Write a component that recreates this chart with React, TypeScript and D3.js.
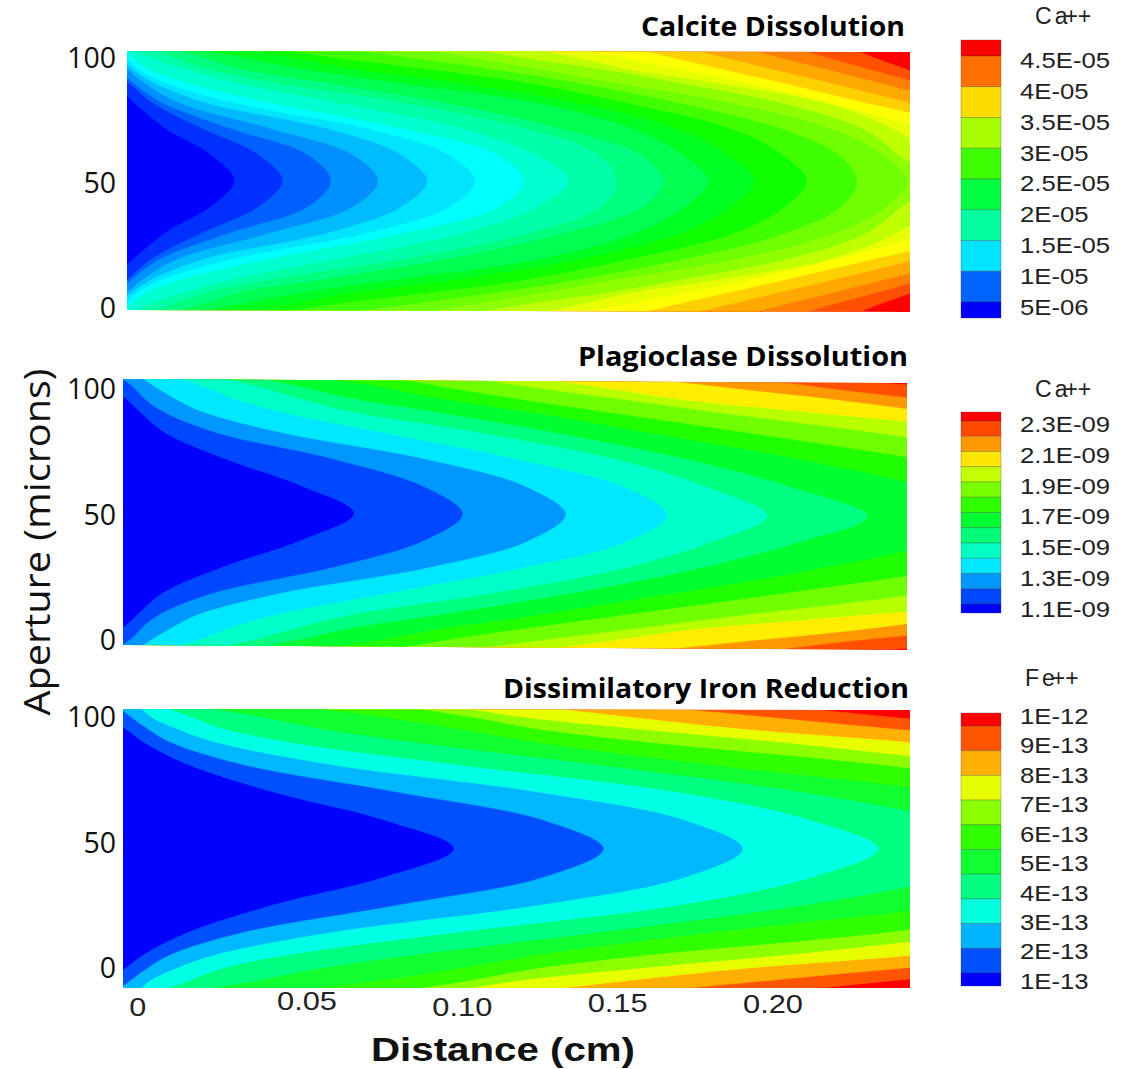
import React from "react";
import * as d3 from "d3";

// Aperture rows (microns) at which each contour was read; the lower half mirrors the upper half.
const apertureRows = [100, 97, 93, 88, 80, 70, 60, 50];

// Contour crossings: distance in microns along the fracture, one column per aperture row.
const calciteContours = [
  [-214, -166, -102, -45, 22, 122, 266, 342],
  [-182, -134, -70, 0, 80, 240, 419, 496],
  [-134, -86, -29, 16, 110, 330, 576, 650],
  [-86, -48, 0, 50, 165, 458, 720, 800],
  [-54, -22, 16, 80, 250, 640, 874, 957],
  [-29, 0, 35, 115, 340, 768, 1027, 1110],
  [-6, 19, 67, 179, 458, 883, 1184, 1267],
  [32, 83, 186, 336, 672, 1075, 1306, 1411],
  [96, 160, 256, 458, 886, 1280, 1507, 1562],
  [170, 256, 362, 618, 1020, 1392, 1642, 1712],
  [256, 384, 563, 848, 1315, 1620, 1779, 1856],
  [400, 550, 723, 1040, 1440, 1763, 1923, 2003],
  [520, 690, 960, 1270, 1600, 1935, 2096, 2170],
  [740, 930, 1170, 1430, 1770, 2096, 2275, 2330],
  [976, 1123, 1322, 1552, 1936, 2256, 2419, 2490],
  [1136, 1290, 1520, 1754, 2096, 2355, 2467, 2570],
  [1338, 1459, 1603, 1872, 2234, 2450, 2576, 2634],
  [1475, 1603, 1776, 1978, 2256, 2544, 2746, 2826],
  [1658, 1763, 1907, 2090, 2371, 2736, 3050, 3146],
  [1827, 1930, 2067, 2243, 2515, 2890, 3210, 3306],
  [2010, 2106, 2240, 2403, 2672, 3050, 3370, 3466],
  [2170, 2256, 2378, 2528, 2768, 3146, 3466, 3562],
  [2339, 2403, 2496, 2618, 2800, 3210, 3562, 3658],
];
const calciteBands = [
  "#0000ff", "#0030ff", "#0060ff", "#0090ff", "#00bcff", "#00e4ff", "#00ffff", "#00ffd0",
  "#00ffa8", "#00ff80", "#00ff50", "#00ff20", "#10ff00", "#40ff00", "#70ff00", "#8fff00",
  "#c0ff00", "#e8ff00", "#ffff00", "#ffd000", "#ffa800", "#ff8000", "#ff5000", "#ff0000",
];

const plagioclaseContours = [
  [-122, -58, 3, 50, 130, 326, 570, 736],
  [-3, 32, 64, 122, 294, 678, 960, 1082],
  [64, 102, 160, 246, 506, 980, 1290, 1411],
  [186, 262, 346, 496, 838, 1277, 1606, 1734],
  [336, 440, 560, 730, 1158, 1597, 1875, 2054],
  [454, 582, 730, 998, 1405, 1830, 2150, 2374],
  [678, 838, 1018, 1309, 1715, 2205, 2576, 2742],
  [902, 1050, 1267, 1565, 2045, 2621, 3126, 3286],
  [1158, 1341, 1606, 1926, 2470, 2998, 3446, 3606],
  [1382, 1565, 1798, 2259, 2934, 3286, 3606, 3766],
  [1757, 1990, 2310, 2630, 3030, 3446, 3766, 3926],
  [2099, 2301, 2611, 2902, 3382, 3766, 4086, 4246],
  [2390, 2806, 3126, 3446, 3926, 4246, 4566, 4726],
];
const plagioclaseBands = [
  "#0000ff", "#0048ff", "#0098ff", "#00e8ff", "#00ffc8", "#00ff80", "#00ff30",
  "#20ff00", "#70ff00", "#b8ff00", "#ffee00", "#ff9800", "#ff5000", "#ff0000",
];

const ironContours = [
  [-106, -50, 5, 65, 205, 480, 832, 1050],
  [-10, 26, 75, 150, 380, 880, 1340, 1526],
  [58, 90, 166, 294, 660, 1330, 1789, 1968],
  [144, 218, 314, 530, 1062, 1776, 2192, 2400],
  [282, 442, 620, 930, 1510, 2173, 2640, 2966],
  [624, 830, 1060, 1320, 1872, 2640, 3126, 3286],
  [944, 1114, 1309, 1680, 2420, 3060, 3606, 3766],
  [1104, 1277, 1629, 2109, 2749, 3446, 3926, 4086],
  [1392, 1629, 1968, 2518, 3126, 3766, 4246, 4406],
  [1798, 2077, 2461, 2966, 3606, 4086, 4566, 4726],
  [2214, 2480, 2870, 3382, 3926, 4406, 4886, 5046],
];
const ironBands = [
  "#0000ff", "#0050ff", "#00b8ff", "#00ffe4", "#00ff80", "#10ff30",
  "#30ff00", "#8cff00", "#e8ff00", "#ffb000", "#ff5500", "#ff0000",
];

// Legend swatches, top to bottom, and their labels.
const calciteSwatches = ["#ff0000", "#ff7000", "#ffdc00", "#a8ff00", "#40ff00", "#00ff40", "#00ffa0", "#00e4ff", "#0064ff", "#0000ff"];
const calciteLabels = ["4.5E-05", "4E-05", "3.5E-05", "3E-05", "2.5E-05", "2E-05", "1.5E-05", "1E-05", "5E-06"];
const plagioclaseSwatches = ["#ff0000", "#ff4800", "#ff9800", "#ffe600", "#c4ff00", "#78ff00", "#30ff00", "#00ff30", "#00ff78", "#00ffc0", "#00e8ff", "#0098ff", "#0048ff", "#0000ff"];
const plagioclaseLabels = ["2.3E-09", "2.1E-09", "1.9E-09", "1.7E-09", "1.5E-09", "1.3E-09", "1.1E-09"];
const ironSwatches = ["#ff0000", "#ff5500", "#ffb000", "#e8ff00", "#8cff00", "#30ff00", "#10ff30", "#00ff80", "#00ffdc", "#00b4ff", "#0050ff", "#0000ff"];
const ironLabels = ["1E-12", "9E-13", "8E-13", "7E-13", "6E-13", "5E-13", "4E-13", "3E-13", "2E-13", "1E-13"];

const apertureTicks = [0, 50, 100];
const distanceTicks = [0, 0.05, 0.1, 0.15, 0.2];
const distanceTickLabels = ["0", "0.05", "0.10", "0.15", "0.20"];

const panels = [
  {
    key: "calcite", title: "Calcite Dissolution", species: ["C", "a", "++"], contours: calciteContours, bands: calciteBands,
    swatches: calciteSwatches, labels: calciteLabels,
    left: 127, right: 910, topL: 51, topR: 52, botL: 310, botR: 312,
    titleX: 641, titleW: 264, titleY: 36, tickY: [308, 58], speciesX: 1035, speciesY: 24,
    legTop: 40, legBot: 318, legFirst: 56, legLast: 302, labFirst: 60, labLast: 307,
  },
  {
    key: "plagioclase", title: "Plagioclase Dissolution", species: ["C", "a", "++"], contours: plagioclaseContours, bands: plagioclaseBands,
    swatches: plagioclaseSwatches, labels: plagioclaseLabels,
    left: 123, right: 907, topL: 379, topR: 383, botL: 645, botR: 650,
    titleX: 578, titleW: 330, titleY: 366, tickY: [640, 389], speciesX: 1035, speciesY: 397,
    legTop: 412, legBot: 613, legFirst: 421, legLast: 604, labFirst: 424, labLast: 609,
  },
  {
    key: "iron", title: "Dissimilatory Iron Reduction", species: ["F", "e", "++"], contours: ironContours, bands: ironBands,
    swatches: ironSwatches, labels: ironLabels,
    left: 123, right: 910, topL: 709, topR: 710, botL: 988, botR: 988,
    titleX: 503, titleW: 406, titleY: 698, tickY: [968, 717], speciesX: 1025, speciesY: 686,
    legTop: 713, legBot: 986, legFirst: 726, legLast: 973, labFirst: 716, labLast: 981,
  },
];

const sans = "'Open Sans', sans-serif";
const arial = "'Liberation Sans', Arial, sans-serif";

function Panel({ p }: { p: (typeof panels)[number] }) {
  const x = d3.scaleLinear([0, 2500], [p.left, p.right]);
  const yLeft = d3.scaleLinear([0, 100], [p.botL, p.topL]);
  const yRight = d3.scaleLinear([0, 100], [p.botR, p.topR]);
  const project = (d: number, a: number): [number, number] => {
    const t = (x(d) - p.left) / (p.right - p.left);
    return [x(d), yLeft(a) + (yRight(a) - yLeft(a)) * t];
  };
  const curve = d3.line().curve(d3.curveCatmullRom.alpha(0.5));
  const frame = d3.line()([project(0, 100), project(2500, 100), project(2500, 0), project(0, 0)]) + "Z";
  const contourPath = (row: number[]) => {
    const upper = row.map((d, i) => project(d, apertureRows[i]));
    const lower = row.slice(0, -1).reverse().map((d, i) => project(d, 100 - apertureRows[apertureRows.length - 2 - i]));
    const far = x(-900);
    const [, yB] = project(-900, 0);
    const [, yT] = project(-900, 100);
    const last = lower[lower.length - 1];
    return `${curve([...upper, ...lower])}L${last[0]},${last[1]}L${far},${yB}L${far},${yT}Z`;
  };
  const clipId = `clip-${p.key}`;
  const tickScale = d3.scaleLinear([0, 100], p.tickY);

  const n = p.swatches.length;
  const bound = d3.scaleLinear([0, n - 2], [p.legFirst, p.legLast]);
  const labelY = d3.scalePoint(p.labels, [p.labFirst, p.labLast]);
  const lastColor = p.bands[p.bands.length - 1];

  return (
    <g>
      <clipPath id={clipId}><path d={frame} /></clipPath>
      <g clipPath={`url(#${clipId})`}>
        <path d={frame} fill={lastColor} />
        {p.contours.map((row, i) => ({ row, i })).reverse().map(({ row, i }) => (
          <path key={i} d={contourPath(row)} fill={p.bands[i]} stroke={p.bands[i]} strokeWidth={0.5} />
        ))}
      </g>
      <text x={p.titleX} y={p.titleY} textLength={p.titleW} lengthAdjust="spacingAndGlyphs"
        fontFamily={sans} fontWeight={700} fontSize={26} fill="#000">{p.title}</text>
      {apertureTicks.map((t) => (
        <text key={t} x={116} y={tickScale(t)} dy="0.36em" textAnchor="end" fontFamily={sans} fontSize={28.5} fill="#111">{t}</text>
      ))}
      <text x={p.speciesX} y={p.speciesY} fontFamily={arial} fontSize={23} fill="#222">
        <tspan>{p.species[0]}</tspan><tspan dx={3}>{p.species[1]}</tspan><tspan dx={-3}>{p.species[2]}</tspan>
      </text>
      {p.swatches.map((c, i) => {
        const y0 = i === 0 ? p.legTop : bound(i - 1);
        const y1 = i === n - 1 ? p.legBot : bound(i);
        return <rect key={c} x={961} y={y0} width={40} height={y1 - y0} fill={c} stroke="#333" strokeOpacity={0.35} strokeWidth={0.8} />;
      })}
      {p.labels.map((l) => (
        <text key={l} transform={`translate(1020,${labelY(l)}) scale(1.17,1)`} dy="0.36em" fontFamily={arial} fontSize={22} fill="#222">{l}</text>
      ))}
    </g>
  );
}

export default function App() {
  // The printed distance labels sit on their own evenly spaced row below the last panel.
  const xLabel = d3.scaleLinear([0.05, 0.2], [307, 773]);
  const labelNudge = [
    { x: -14, y: 1007 },
    { x: 0, y: 1001 },
    { x: 0, y: 1007 },
    { x: 0, y: 1003 },
    { x: 0, y: 1004 },
  ];
  return (
    <svg width={1128} height={1069} viewBox="0 0 1128 1069"
      style={{ position: "absolute", left: 0, top: 0, background: "#fff" }}>
      {panels.map((p) => <Panel key={p.key} p={p} />)}
      {distanceTicks.map((t, i) => (
        <text key={t} x={xLabel(t) + labelNudge[i].x} y={labelNudge[i].y} dy="0.36em" textAnchor="middle"
          textLength={i === 0 ? 17 : 60} lengthAdjust="spacingAndGlyphs" fontFamily={arial} fontSize={25} fill="#222">
          {distanceTickLabels[i]}
        </text>
      ))}
      <text x={371} y={1061} textLength={264} lengthAdjust="spacingAndGlyphs" fontFamily={arial} fontWeight={700} fontSize={34} fill="#111">
        Distance (cm)
      </text>
      <text transform="translate(50,542) rotate(-90)" textAnchor="middle" textLength={347} lengthAdjust="spacingAndGlyphs"
        fontFamily={sans} fontSize={37} fill="#111">Aperture (microns)</text>
    </svg>
  );
}
